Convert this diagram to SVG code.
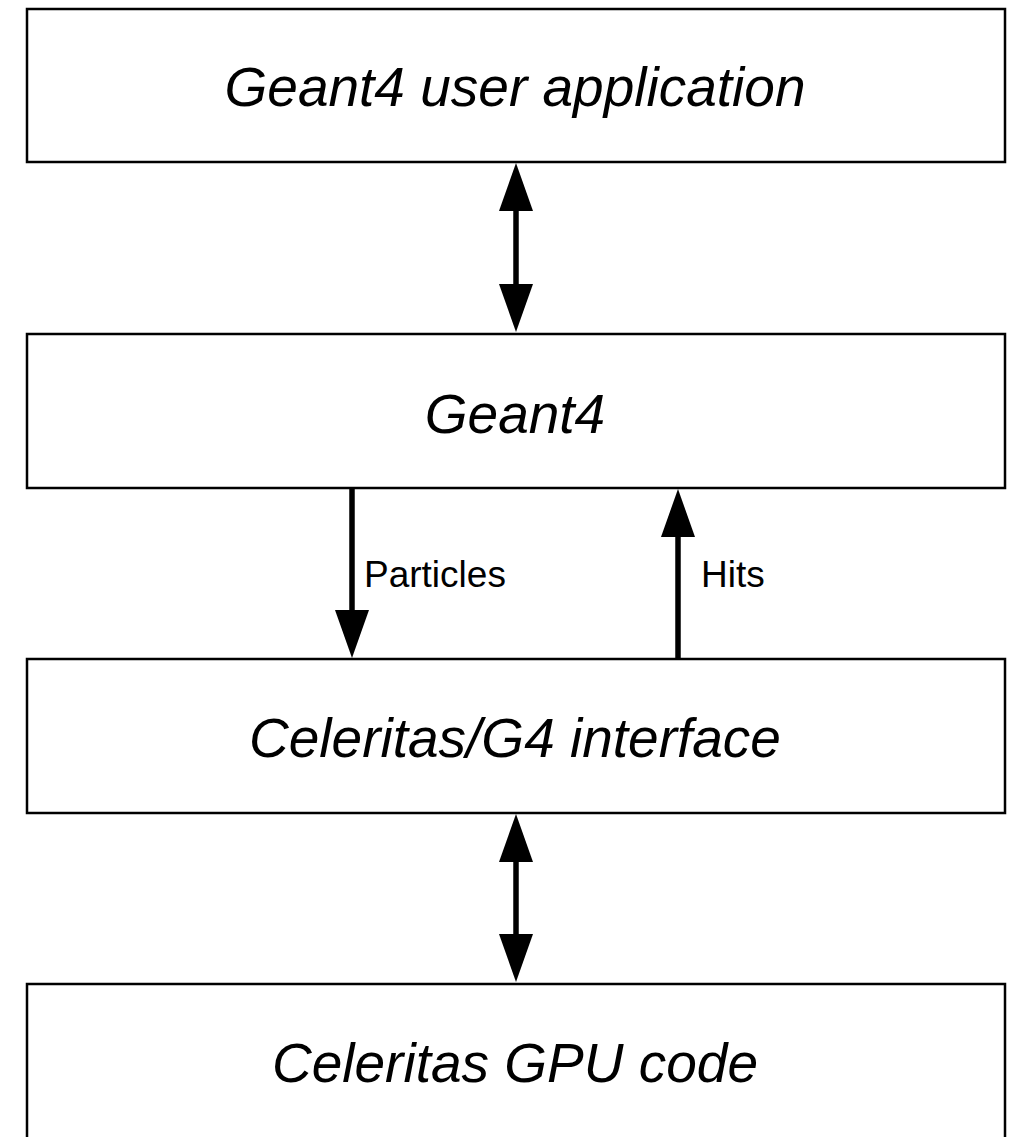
<svg xmlns="http://www.w3.org/2000/svg" width="1013" height="1137" viewBox="0 0 1013 1137">
<style>
.box{fill:#fff;stroke:#000;stroke-width:2.5}
.lbl{font-family:"Liberation Sans",Arial,sans-serif;font-style:italic;font-size:55px;text-anchor:middle;fill:#000}
.edge{stroke:#000;stroke-width:5.5;fill:none}
.head{fill:#000}
.elbl{font-family:"Liberation Sans",Arial,sans-serif;font-size:37px;fill:#000}
</style>
<rect width="1013" height="1137" fill="#fff"/>
<g id="connectors">
<g id="e1"><line class="edge" x1="516" y1="210" x2="516" y2="286"/>
<path class="head" d="M516,163 L533,211 L499,211 Z"/><path class="head" d="M516,332 L533,284 L499,284 Z"/></g>
<g id="e2"><line class="edge" x1="352" y1="487" x2="352" y2="612"/>
<path class="head" d="M352,658 L369,610 L335,610 Z"/>
<text class="elbl" x="364" y="587">Particles</text></g>
<g id="e3"><line class="edge" x1="678" y1="534" x2="678" y2="660"/>
<path class="head" d="M678,489 L695,537 L661,537 Z"/>
<text class="elbl" x="701" y="587">Hits</text></g>
<g id="e4"><line class="edge" x1="516" y1="860" x2="516" y2="936"/>
<path class="head" d="M516,814 L533,862 L499,862 Z"/><path class="head" d="M516,982 L533,934 L499,934 Z"/></g>
</g>
<g id="n1"><rect class="box" x="27" y="9" width="978" height="153"/><text class="lbl" x="515" y="106">Geant4 user application</text></g>
<g id="n2"><rect class="box" x="27" y="334" width="978" height="154"/><text class="lbl" x="515" y="433">Geant4</text></g>
<g id="n3"><rect class="box" x="27" y="659" width="978" height="154"/><text class="lbl" x="515" y="757">Celeritas/G4 interface</text></g>
<g id="n4"><rect class="box" x="27" y="984" width="978" height="170"/><text class="lbl" x="515" y="1082">Celeritas GPU code</text></g>
</svg>
